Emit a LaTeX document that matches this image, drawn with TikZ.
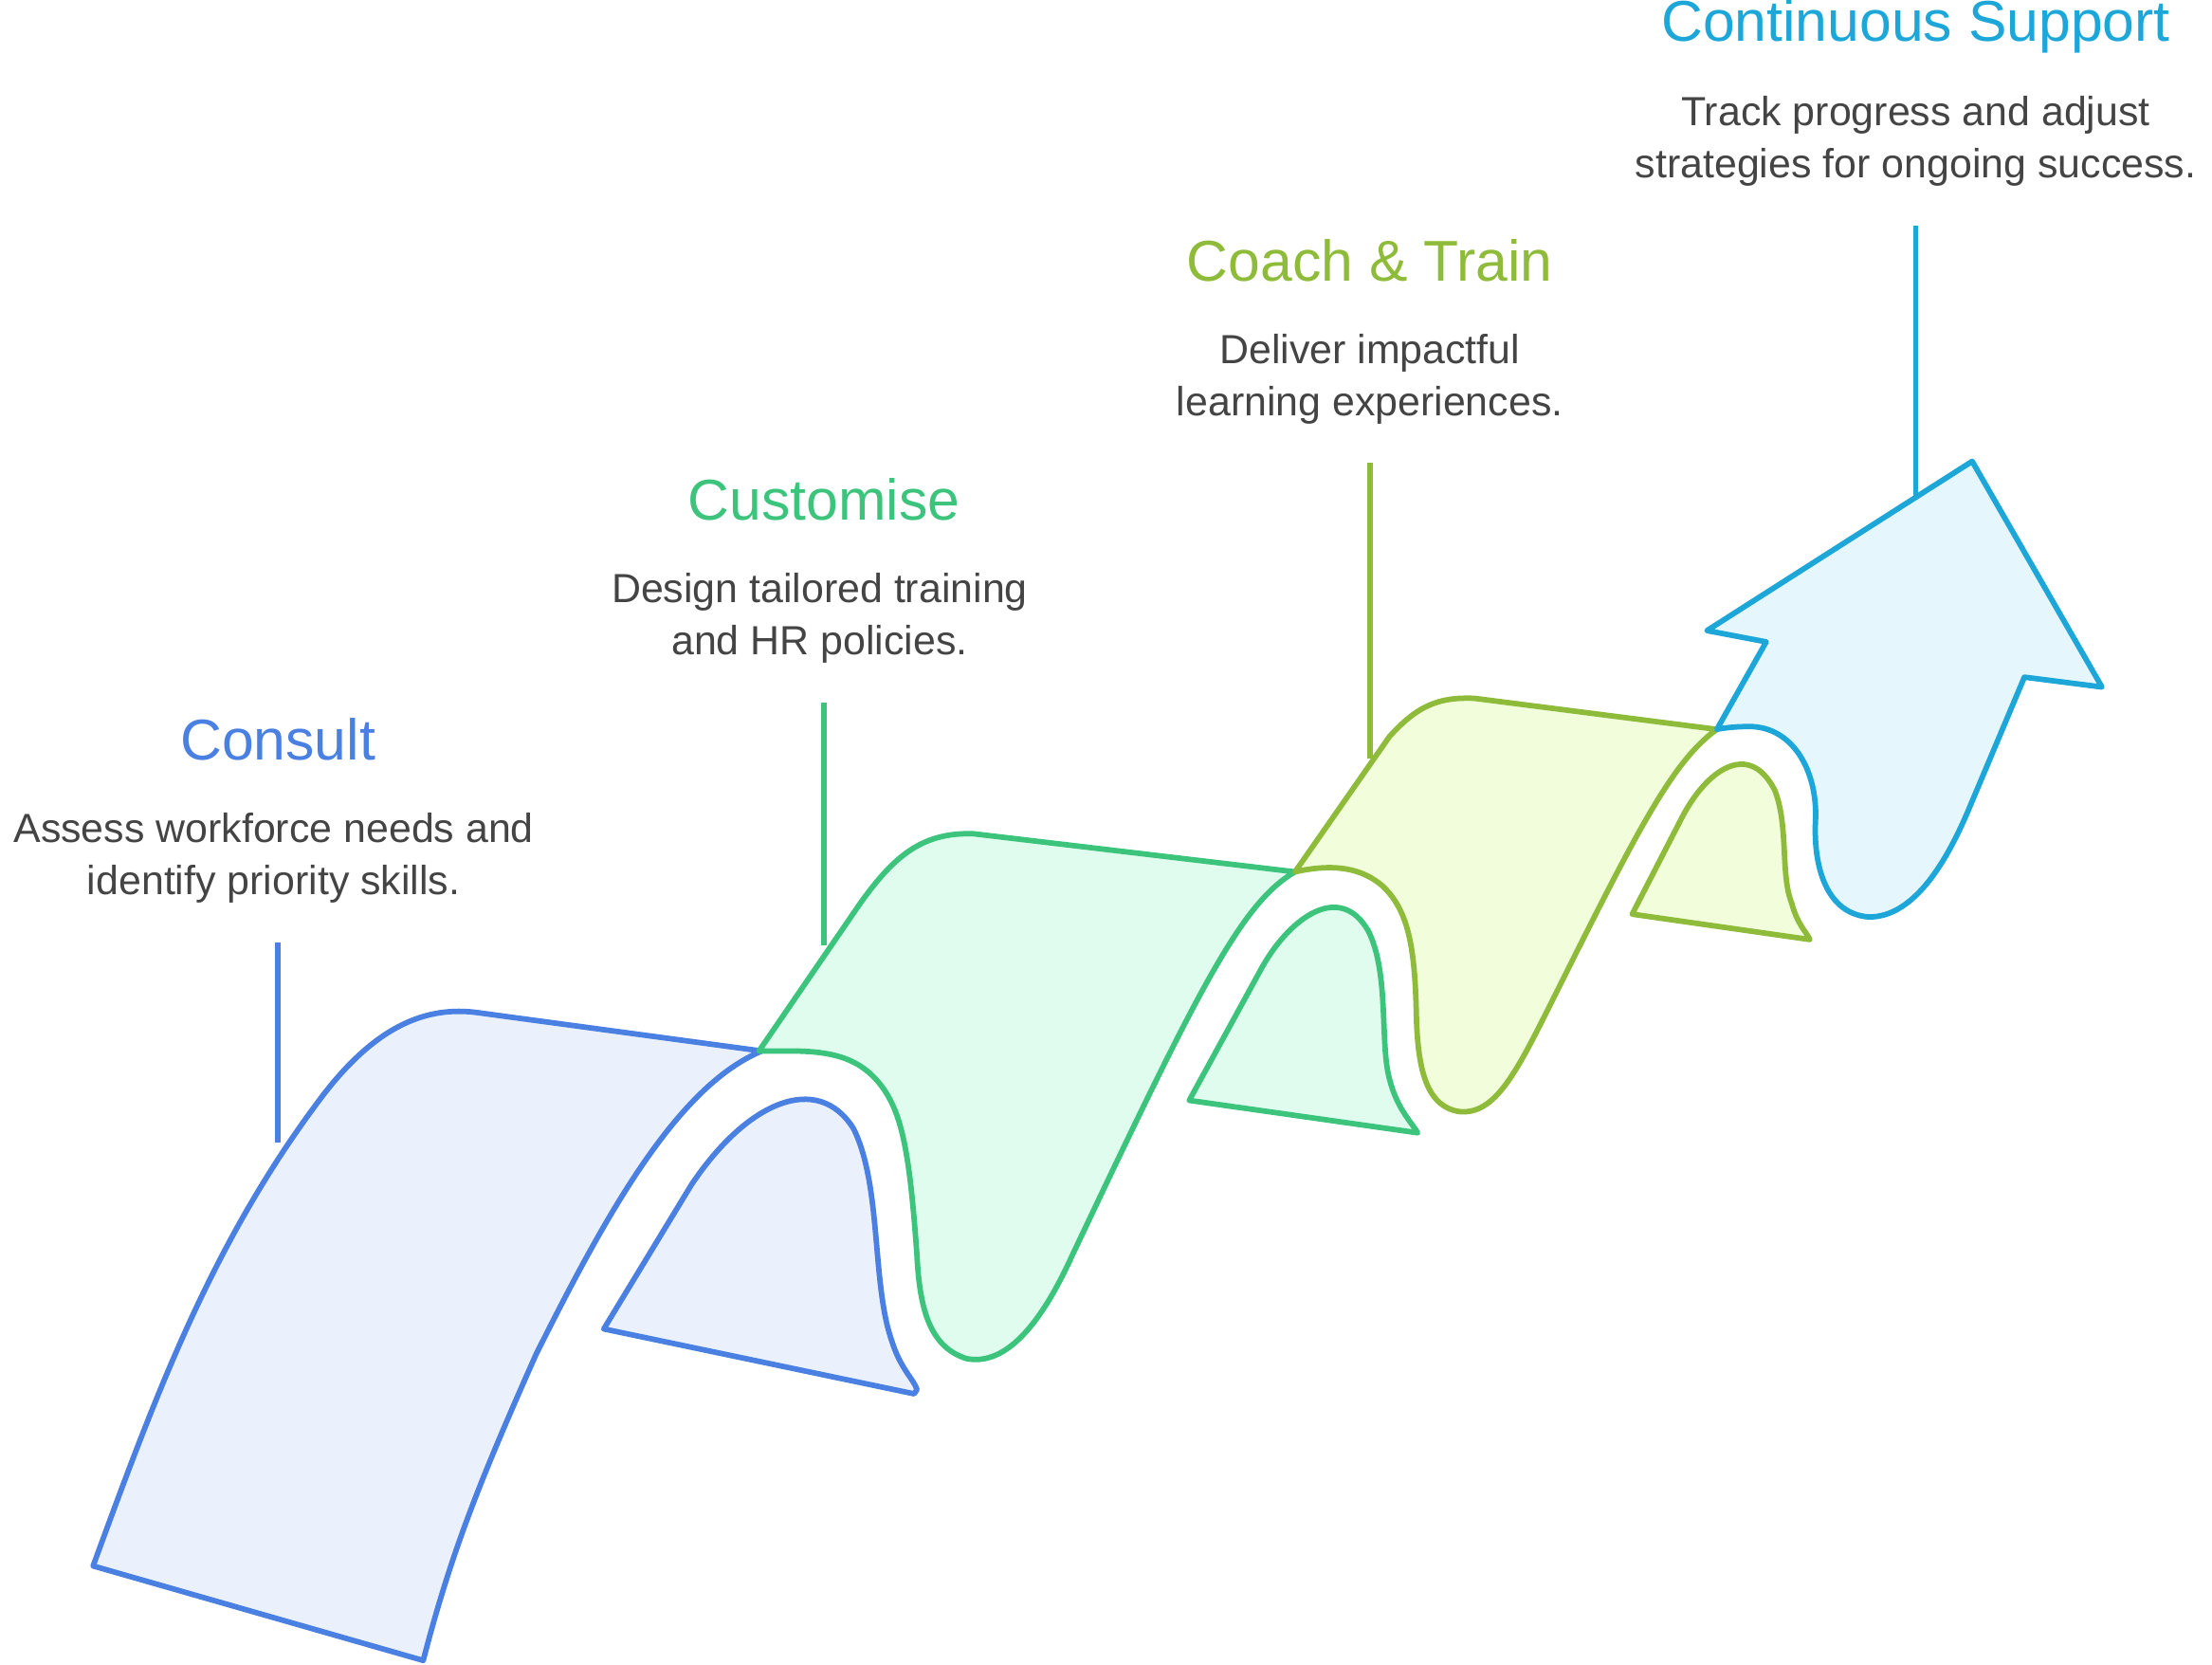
\documentclass[tikz,border=0pt]{standalone}
\usepackage{fontspec}
\setmainfont{Liberation Sans}
\definecolor{cblue}{HTML}{4A80E2}
\definecolor{fblue}{HTML}{EAF1FD}
\definecolor{cgreen}{HTML}{3CC47D}
\definecolor{fgreen}{HTML}{E0FCEE}
\definecolor{colive}{HTML}{8FBB3A}
\definecolor{folive}{HTML}{F1FDDB}
\definecolor{ccyan}{HTML}{1DA6D8}
\definecolor{fcyan}{HTML}{E5F7FC}
\definecolor{txt}{HTML}{444444}
\begin{document}
\begin{tikzpicture}[x=0.01cm,y=-0.01cm,line width=1.1pt,line join=round]
    \tikzset{title/.style={font=\fontsize{11.6}{14}\selectfont},
             body/.style={font=\fontsize{8.2}{10.5}\selectfont,text=txt,align=center}}
    \useasboundingbox (0,0) rectangle (1568,1180);
    % consult
    \draw [cblue,fill=fblue] (66,1110) .. controls (110,990) and (150,880) .. (230,775)
        .. controls (265,730) and (300,712) .. (340,718) -- (540,745)
        .. controls (480,770) and (430,860) .. (380,960) .. controls (340,1050) and (320,1100) .. (300,1177) -- cycle;
    \draw [cblue,fill=fblue] (428,942) -- (490,840) .. controls (530,780) and (580,760) .. (605,800)
        .. controls (625,840) and (618,910) .. (632,950) .. controls (638,970) and (648,978) .. (650,985) -- (648,988) -- cycle;
    % customise
    \draw [cgreen,fill=fgreen] (538,745) -- (610,640) .. controls (635,605) and (655,590) .. (690,591) -- (918,618)
        .. controls (880,640) and (850,700) .. (760,890) .. controls (735,945) and (710,968) .. (685,963)
        .. controls (660,955) and (652,930) .. (650,890) .. controls (645,820) and (640,790) .. (625,770)
        .. controls (610,750) and (590,745) .. (560,745) -- cycle;
    \draw [cgreen,fill=fgreen] (843,780) -- (895,685) .. controls (915,650) and (950,625) .. (970,660)
        .. controls (985,690) and (978,740) .. (985,765) .. controls (990,785) and (1000,795) .. (1005,803) -- cycle;
    % coach
    \draw [colive,fill=folive] (918,618) -- (985,522) .. controls (1005,500) and (1020,494) .. (1045,495) -- (1217,517)
        .. controls (1185,540) and (1160,590) .. (1100,710) .. controls (1075,760) and (1060,790) .. (1035,788)
        .. controls (1012,785) and (1005,760) .. (1004,720) .. controls (1003,670) and (998,645) .. (980,628)
        .. controls (965,615) and (945,612) .. (918,618) -- cycle;
    \draw [colive,fill=folive] (1157,648) -- (1192,580) .. controls (1210,545) and (1240,525) .. (1258,560)
        .. controls (1268,585) and (1262,620) .. (1270,640) .. controls (1274,655) and (1280,660) .. (1283,666) -- cycle;
    % support
    \draw [ccyan,fill=fcyan] (1217,517) -- (1252,455) -- (1210,447) -- (1398,327) -- (1490,487) -- (1435,480)
        -- (1395,575) .. controls (1378,615) and (1355,650) .. (1325,650)
        .. controls (1295,648) and (1285,615) .. (1287,580) .. controls (1288,545) and (1270,515) .. (1240,515)
        .. controls (1230,515) and (1222,516) .. (1217,517) -- cycle;
    % labels
    \node [title,text=cblue] (t1) at (197,524) {Consult};
    \node [body] (b1) at (194,608) {Assess workforce needs and\\identify priority skills.};
    \node [title,text=cgreen] (t2) at (584,354) {Customise};
    \node [body] (b2) at (581,438) {Design tailored training\\and HR policies.};
    \node [title,text=colive] (t3) at (971,185) {Coach \& Train};
    \node [body] (b3) at (971,269) {Deliver impactful\\learning experiences.};
    \node [title,text=ccyan] (t4) at (1358,19) {Continuous Support};
    \node [body] (b4) at (1358,100) {Track progress and adjust\\strategies for ongoing success.};
    \coordinate (l1) at (197,810); \coordinate (l2) at (584,670);
    \coordinate (l3) at (971,538); \coordinate (l4) at (1358,352);
    \draw [cblue] (197,668) -- (l1);
    \draw [cgreen] (584,498) -- (l2);
    \draw [colive] (971,328) -- (l3);
    \draw [ccyan] (1358,160) -- (l4);
\end{tikzpicture}
\end{document}
